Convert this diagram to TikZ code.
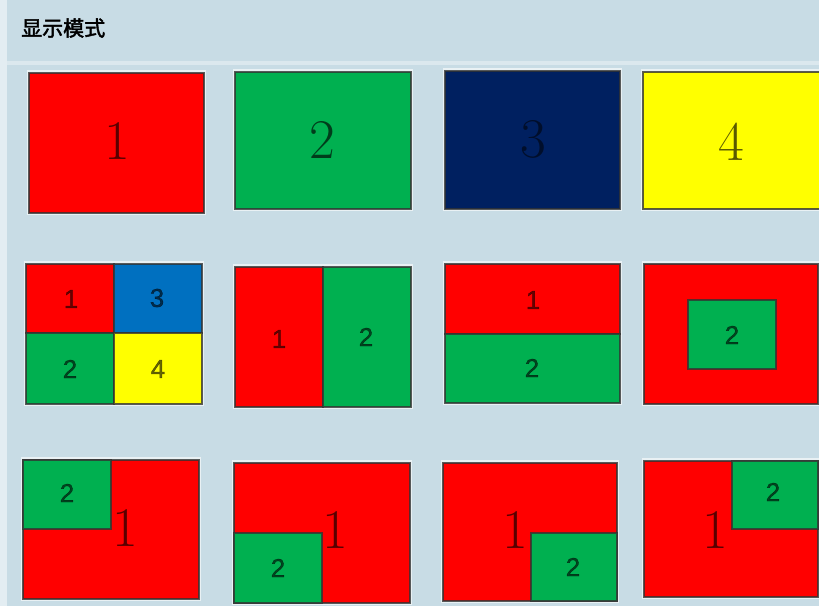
\documentclass[tikz,border=0pt]{standalone}
\usepackage{fontspec}
\newfontfamily\cjk[FakeBold=2]{Noto Sans CJK SC}
\newfontfamily\sansdig[FakeBold=1]{Liberation Sans}
\newcommand\bigdig{\fontsize{56}{60}\selectfont}
\newcommand\smalldig{\sansdig\fontsize{26}{28}\selectfont}
\definecolor{bgc}{HTML}{C8DCE5}
\definecolor{pred}{HTML}{FF0000}
\definecolor{pgreen}{HTML}{00B050}
\definecolor{pnavy}{HTML}{002060}
\definecolor{pyellow}{HTML}{FFFF00}
\definecolor{pblue}{HTML}{0070C0}
\tikzset{
  pane/.style={draw=black!80, draw opacity=0.8, line width=1.4pt},
  halo/.style={fill=white, fill opacity=0.6},
  bignum/.style={font=\bigdig, text=black, text opacity=0.65, inner sep=0pt},
  smallnum/.style={font=\smalldig, text=black, text opacity=0.6, inner sep=0pt},
}
\begin{document}
\begin{tikzpicture}[x=1pt,y=-1pt]
\fill[bgc] (0,0) rectangle (819,606);
\useasboundingbox (0,0) rectangle (819,606);
\fill[white, opacity=0.5] (0,0) rectangle (7,606);
\fill[white, opacity=0.35] (7,61) rectangle (819,65);
\node[font=\cjk\fontsize{21}{23}\selectfont, anchor=west, inner sep=0pt] (title) at (21,28) {显示模式};

% ---------- Row 1 ----------
\fill[halo] (27,70) rectangle (206,215);
\filldraw[pane, fill=pred] (29,73) rectangle (204,213);
\node[bignum] (n1) at (117,141) {1};

\fill[halo] (233,69) rectangle (413,211);
\filldraw[pane, fill=pgreen] (235,72) rectangle (411,209);
\node[bignum] (n2) at (322,140) {2};

\fill[halo] (443,68) rectangle (622,211);
\filldraw[pane, fill=pnavy] (445,71) rectangle (620,209);
\node[bignum, text opacity=0.55] (n3) at (533,139) {3};

\fill[halo] (641,69) rectangle (819,211);
\filldraw[pane, fill=pyellow] (643,72) rectangle (822,209);
\node[bignum] (n4) at (731,142) {4};

% ---------- Row 2 ----------
\fill[halo] (24,261) rectangle (204,406);
\filldraw[pane, fill=pred] (26,264) rectangle (114,333);
\filldraw[pane, fill=pblue] (114,264) rectangle (202,333);
\filldraw[pane, fill=pgreen] (26,333) rectangle (114,404);
\filldraw[pane, fill=pyellow] (114,333) rectangle (202,404);
\node[smallnum] (q1) at (71,299) {1};
\node[smallnum] (q3) at (157,298) {3};
\node[smallnum] (q2) at (70,369) {2};
\node[smallnum] (q4) at (158,369) {4};

\fill[halo] (233,264) rectangle (413,409);
\filldraw[pane, fill=pred] (235,267) rectangle (323,407);
\filldraw[pane, fill=pgreen] (323,267) rectangle (411,407);
\node[smallnum] (v1) at (279,339) {1};
\node[smallnum] (v2) at (366,337) {2};

\fill[halo] (443,261) rectangle (622,405);
\filldraw[pane, fill=pred] (445,264) rectangle (620,334);
\filldraw[pane, fill=pgreen] (445,334) rectangle (620,403);
\node[smallnum] (h1) at (533,300) {1};
\node[smallnum] (h2) at (532,368) {2};

\fill[halo] (642,261) rectangle (819,406);
\filldraw[pane, fill=pred] (644,264) rectangle (818,404);
\filldraw[pane, fill=pgreen] (688,300) rectangle (776,369);
\node[smallnum] (c2) at (732,335) {2};

% ---------- Row 3 ----------
\fill[halo] (21,457) rectangle (201,601);
\filldraw[pane, fill=pred] (23,460) rectangle (199,599);
\filldraw[pane, fill=pgreen] (23,460) rectangle (111,529);
\node[bignum] (a1) at (125,528) {1};
\node[smallnum] (a2) at (67,493) {2};

\fill[halo] (232,460) rectangle (412,605);
\filldraw[pane, fill=pred] (234,463) rectangle (410,603);
\filldraw[pane, fill=pgreen] (234,533) rectangle (322,603);
\node[bignum] (b1) at (335,530) {1};
\node[smallnum] (b2) at (278,568) {2};

\fill[halo] (441,460) rectangle (619,603);
\filldraw[pane, fill=pred] (443,463) rectangle (617,601);
\filldraw[pane, fill=pgreen] (531,533) rectangle (617,601);
\node[bignum] (d1) at (515,530) {1};
\node[smallnum] (d2) at (573,567) {2};

\fill[halo] (642,458) rectangle (819,599);
\filldraw[pane, fill=pred] (644,461) rectangle (818,597);
\filldraw[pane, fill=pgreen] (732,461) rectangle (818,529);
\node[bignum] (e1) at (715,530) {1};
\node[smallnum] (e2) at (773,492) {2};
\end{tikzpicture}
\end{document}
